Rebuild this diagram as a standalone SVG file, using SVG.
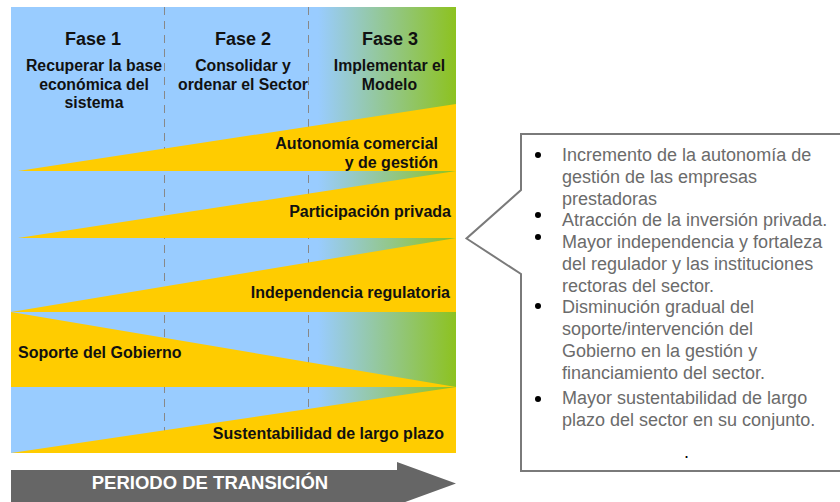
<svg xmlns="http://www.w3.org/2000/svg" width="840" height="502" viewBox="0 0 840 502">
<defs>
<linearGradient id="bg" gradientUnits="userSpaceOnUse" x1="11" y1="0" x2="456" y2="0">
<stop offset="0" stop-color="#99CCFF"/>
<stop offset="0.69" stop-color="#99CCFF"/>
<stop offset="1" stop-color="#8DC21F"/>
</linearGradient>
<style>
.tri{fill:#FFCC00;}
.dash{stroke:#888888;stroke-width:1;stroke-dasharray:8 6;fill:none;}
.fase{font-family:"Liberation Sans",Arial,sans-serif;font-weight:bold;font-size:18px;fill:#111111;text-anchor:middle;}
.sub{font-family:"Liberation Sans",Arial,sans-serif;font-weight:bold;font-size:15.8px;fill:#111111;text-anchor:middle;}
.lbl{font-family:"Liberation Sans",Arial,sans-serif;font-weight:bold;font-size:16px;fill:#111111;}
.r{text-anchor:end;}
.txt{font-family:"Liberation Sans",Arial,sans-serif;font-size:18px;fill:#6B6B6B;}
</style>
</defs>
<rect width="840" height="502" fill="#FFFFFF"/>
<g id="panel">
<rect x="11" y="7" width="445" height="446" fill="url(#bg)"/>
<line class="dash" x1="164.5" y1="7" x2="164.5" y2="453"/>
<line class="dash" x1="308.5" y1="7" x2="308.5" y2="453"/>
</g>
<g id="fase1">
<text class="fase" x="93" y="45">Fase 1</text>
<text class="sub" x="94" y="71">Recuperar la base</text>
<text class="sub" x="94" y="90">económica del</text>
<text class="sub" x="94" y="108">sistema</text>
</g>
<g id="fase2">
<text class="fase" x="243" y="45">Fase 2</text>
<text class="sub" x="243" y="71">Consolidar y</text>
<text class="sub" x="243" y="90">ordenar el Sector</text>
</g>
<g id="fase3">
<text class="fase" x="390" y="45">Fase 3</text>
<text class="sub" x="389.5" y="71">Implementar el</text>
<text class="sub" x="389.5" y="90">Modelo</text>
</g>
<g id="autonomia">
<polygon class="tri" points="18,171 456,104 456,171"/>
<text class="lbl r" x="438" y="149">Autonomía comercial</text>
<text class="lbl r" x="438" y="168">y de gestión</text>
</g>
<g id="participacion">
<polygon class="tri" points="18,238 456,171 456,238"/>
<text class="lbl r" x="451" y="217">Participación privada</text>
</g>
<g id="independencia">
<polygon class="tri" points="11,312 456,238 456,312"/>
<text class="lbl r" x="450" y="298">Independencia regulatoria</text>
</g>
<g id="soporte">
<polygon class="tri" points="11,312 11,387 456,387"/>
<text class="lbl" x="18" y="358">Soporte del Gobierno</text>
</g>
<g id="sustentabilidad">
<polygon class="tri" points="11,453 456,387 456,453"/>
<text class="lbl r" x="444" y="439">Sustentabilidad de largo plazo</text>
</g>
<g id="periodo">
<polygon points="11,470 397,470 397,462 456,483.5 397,505 397,502 11,502" fill="#666666"/>
<text x="210" y="489" font-family="Liberation Sans, Arial, sans-serif" font-weight="bold" font-size="18.5" fill="#FFFFFF" text-anchor="middle">PERIODO DE TRANSICIÓN</text>
</g>
<g id="callout">
<path d="M521,134 L842,134 L842,471 L521,471 L521,274 L466.5,238.5 L521,190 Z" fill="#FFFFFF" stroke="#7A7A7A" stroke-width="2"/>
<g fill="#000000">
<circle cx="538" cy="155" r="3"/>
<circle cx="538" cy="215" r="3"/>
<circle cx="538" cy="237" r="3"/>
<circle cx="538" cy="306" r="3"/>
<circle cx="538" cy="399" r="3"/>
</g>
<text class="txt" x="562" y="161">Incremento de la autonomía de</text>
<text class="txt" x="562" y="182.8">gestión de las empresas</text>
<text class="txt" x="562" y="204.6">prestadoras</text>
<text class="txt" x="562" y="226.4">Atracción de la inversión privada.</text>
<text class="txt" x="562" y="248.2">Mayor independencia y fortaleza</text>
<text class="txt" x="562" y="270">del regulador y las instituciones</text>
<text class="txt" x="562" y="291.8">rectoras del sector.</text>
<text class="txt" x="562" y="313">Disminución gradual del</text>
<text class="txt" x="562" y="335">soporte/intervención del</text>
<text class="txt" x="562" y="357">Gobierno en la gestión y</text>
<text class="txt" x="562" y="379">financiamiento del sector.</text>
<text class="txt" x="562" y="404">Mayor sustentabilidad de largo</text>
<text class="txt" x="562" y="426">plazo del sector en su conjunto.</text>
<text x="684" y="458" font-family="Liberation Sans, Arial, sans-serif" font-size="18" fill="#000000">.</text>
</g>
</svg>
